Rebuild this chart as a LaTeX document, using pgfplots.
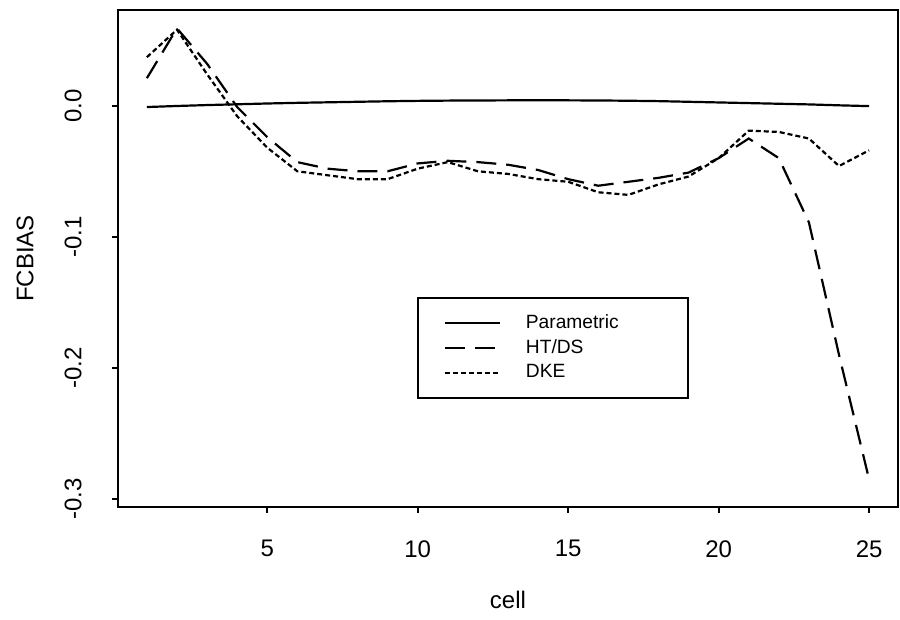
\documentclass[border=0pt]{standalone}
\usepackage{fontspec}
\setmainfont{Liberation Sans}
\usepackage{pgfplots}
\pgfplotsset{compat=1.18}

\begin{document}
\begin{tikzpicture}
\begin{axis}[
  at={(0pt,0pt)},anchor=south west,
  scale only axis,width=390pt,height=248.5pt,
  xmin=0.04,xmax=25.96,ymin=-0.306,ymax=0.073,
  axis line style={line width=1pt},
  tick align=outside,major tick length=3pt,tick style={line width=0.9pt,black},
  xtick pos=bottom,ytick pos=left,
  xtick={5,10,15,20,25},xticklabels={5,10,15,20,25},
  ytick={-0.3,-0.2,-0.1,0},yticklabels={{-0.3},{-0.2},{-0.1},{0.0}},
  tick label style={font=\fontsize{12}{14}\selectfont,inner sep=0pt},
  xticklabel style={anchor=north},xticklabel shift=13.5pt,
  yticklabel style={rotate=90,anchor=south},yticklabel shift=15pt,
  xlabel={cell},ylabel={FCBIAS},
  label style={font=\fontsize{12}{14}\selectfont},
  xlabel style={at={(axis description cs:0.5,-0.187)},anchor=center},
  ylabel style={at={(axis description cs:-0.119,0.5)},anchor=center},
  legend style={at={(axis description cs:0.383,0.423)},anchor=north west,
    draw=black,line width=1pt,inner xsep=13pt,inner ysep=6.5pt,
    font=\fontsize{9.6}{11.5}\selectfont,cells={anchor=west},
    /tikz/every odd column/.append style={column sep=10.5pt}},
  legend image code/.code={\draw[#1] (0pt,0pt) -- (27.5pt,0pt);},
]
% Parametric
\addplot[black,line width=1.1pt] coordinates {
(1,-0.001) (2,-0.0002) (3,0.0005) (4,0.0011) (5,0.0017) (6,0.0022) (7,0.0026)
(8,0.003) (9,0.0034) (10,0.0037) (11,0.0039) (12,0.004) (13,0.0041) (14,0.0042)
(15,0.0041) (16,0.004) (17,0.0038) (18,0.0035) (19,0.003) (20,0.0025) (21,0.002)
(22,0.0015) (23,0.001) (24,0.0003) (25,-0.0003)};
% HT/DS
\addplot[black,line width=1.1pt,dash pattern=on 10pt off 5pt] coordinates {
(1,0.021) (2,0.059) (3,0.032) (4,-0.001) (5,-0.024) (6,-0.043) (7,-0.048)
(8,-0.050) (9,-0.050) (10,-0.044) (11,-0.042) (12,-0.043) (13,-0.045) (14,-0.049)
(15,-0.056) (16,-0.061) (17,-0.058) (18,-0.055) (19,-0.051) (20,-0.040) (21,-0.025)
(22,-0.040) (23,-0.089) (24,-0.190) (25,-0.285)};
% DKE
\addplot[black,line width=1.1pt,dash pattern=on 2.5pt off 1.5pt] coordinates {
(1,0.037) (2,0.058) (3,0.024) (4,-0.008) (5,-0.032) (6,-0.050) (7,-0.053)
(8,-0.056) (9,-0.056) (10,-0.048) (11,-0.043) (12,-0.050) (13,-0.052) (14,-0.056)
(15,-0.058) (16,-0.066) (17,-0.068) (18,-0.060) (19,-0.054) (20,-0.040) (21,-0.019)
(22,-0.020) (23,-0.025) (24,-0.046) (25,-0.034)};
\legend{Parametric,HT/DS,\makebox[66pt][l]{DKE}}
\end{axis}
\pgfresetboundingbox
\useasboundingbox (-59pt,-56.5pt) rectangle (391pt,253.5pt);
\end{tikzpicture}
\end{document}
